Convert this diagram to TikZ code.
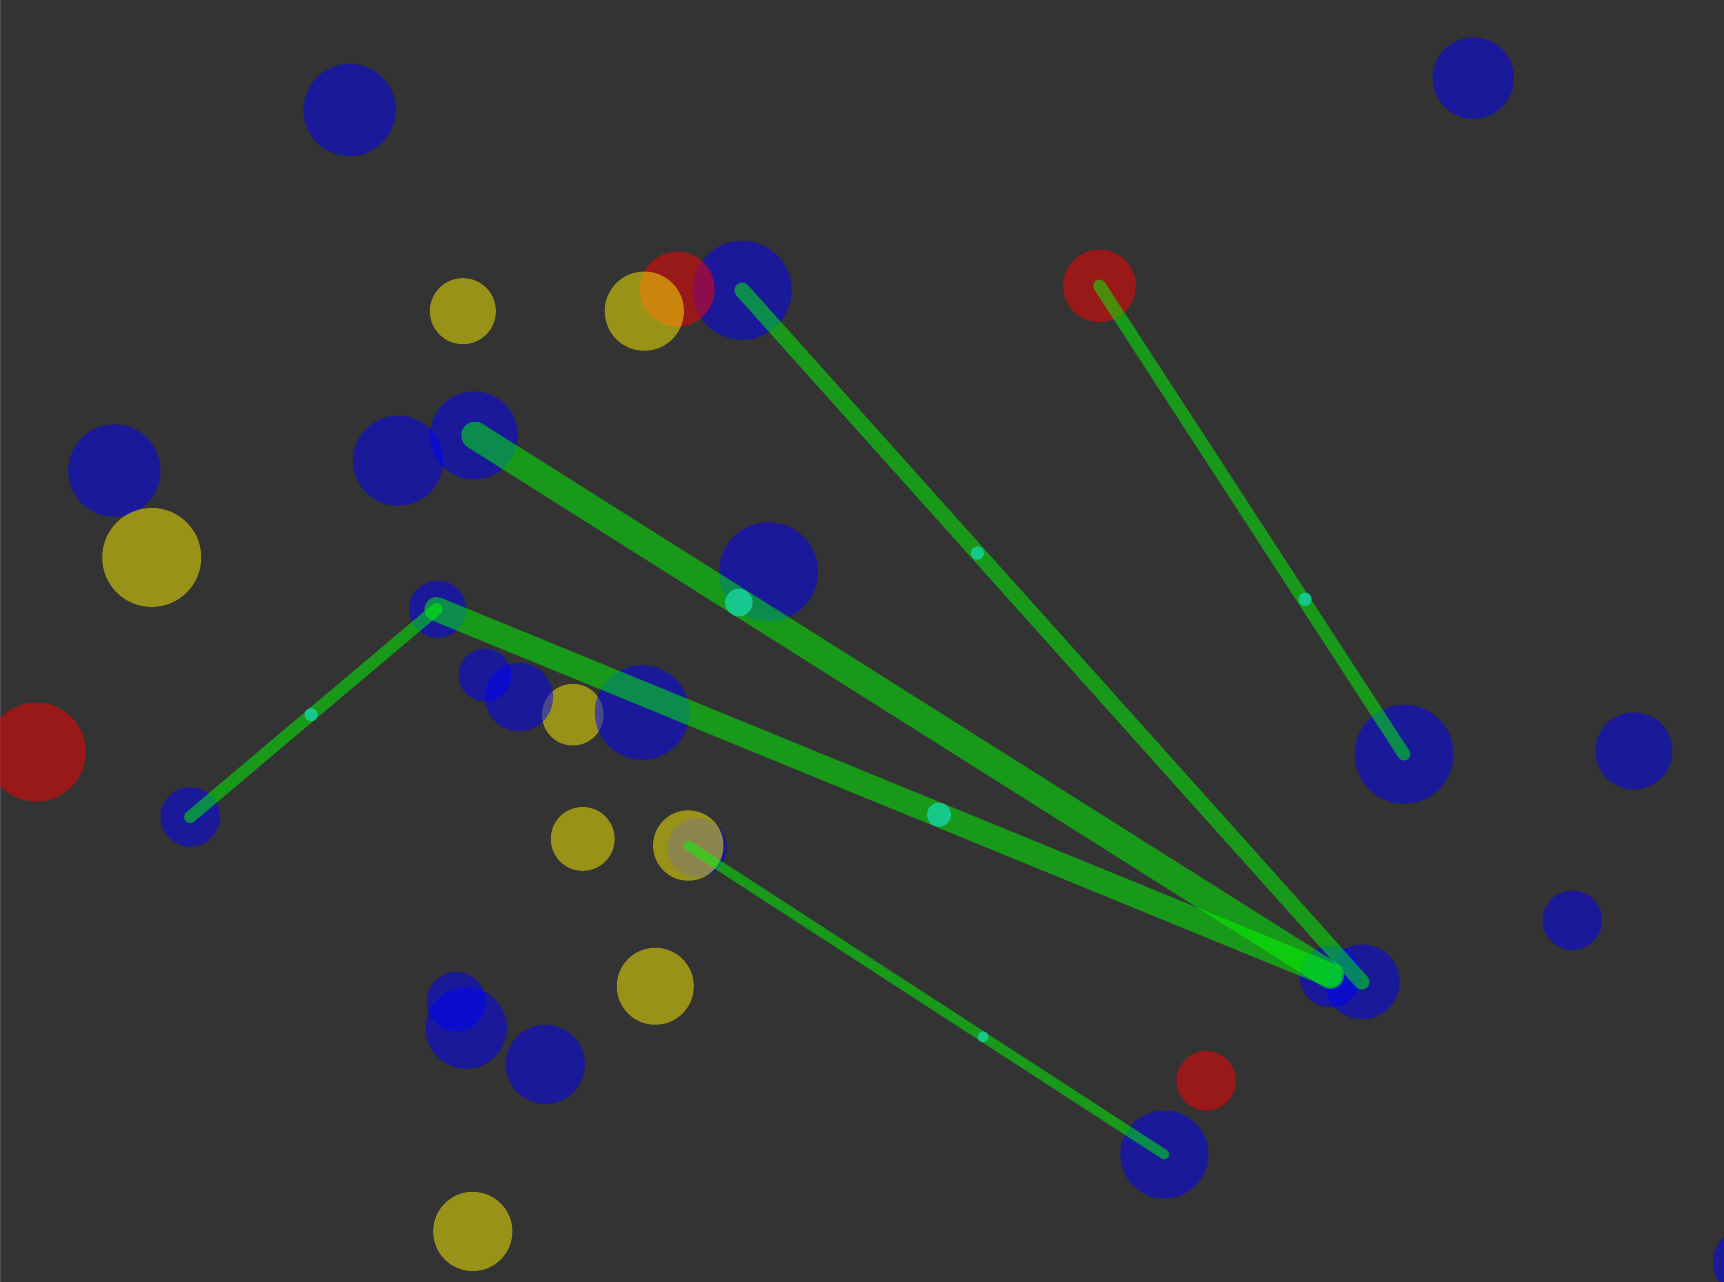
\documentclass[tikz,border=0pt]{standalone}
\usetikzlibrary{calc}
\definecolor{bgc}{HTML}{333333}
\definecolor{edgec}{HTML}{4D4D4D}
\definecolor{mint}{HTML}{16CF98}
\tikzset{
  bluec/.style={fill=blue,fill opacity=0.5},
  redc/.style={fill=red,fill opacity=0.5},
  yelc/.style={fill=yellow,fill opacity=0.5},
  link/.style={draw=green,draw opacity=0.5,line cap=round},
  pulse/.style={fill=mint,fill opacity=0.9},
}
\begin{document}
\begin{tikzpicture}[x=0.01cm,y=-0.01cm]
\useasboundingbox (0,0) rectangle (1568,1166);
\clip (0,0) rectangle (1568,1166);
\fill[bgc] (0,0) rectangle (1568,1166);
\fill[edgec] (0,0) rectangle (1.2,1166);
% yellow drawn under a blue circle
\fill[yelc] (521,650) circle[radius=28];
% blue circles
\foreach \x/\y/\r in {318/100/42, 1340/71/37, 675/264/45, 431/396/40, 362/419/41,
  104/428/42, 699/520/45, 398/554/26, 441/614/24, 472/634/31, 584/648/43,
  173/743/27, 1277/686/45, 1486/683/35, 1430/837/27, 1239/893/34, 1210/888/28,
  415/911/27, 424/935/37, 496/968/36, 1059/1050/40, 1590/1148/32, 634/771/27}
  \fill[bluec] (\x,\y) circle[radius=\r];
% red circles
\foreach \x/\y/\r in {616/263/34, 1000/260/33, 33/684/45, 1097/983/27}
  \fill[redc] (\x,\y) circle[radius=\r];
% yellow circles
\foreach \x/\y/\r in {421/283/30, 586/283/36, 138/507/45, 530/763/29,
  626/769/32, 596/897/35, 430/1120/36}
  \fill[yelc] (\x,\y) circle[radius=\r];
% link end points
\coordinate (a1) at (675,264);  \coordinate (b1) at (1238.5,893);
\coordinate (a2) at (1000,260); \coordinate (b2) at (1277,686);
\coordinate (a3) at (432,396);  \coordinate (b3) at (1210,887);
\coordinate (a4) at (397,554);  \coordinate (b4) at (1210,887);
\coordinate (a5) at (173,743);  \coordinate (b5) at (397,554);
\coordinate (a6) at (626,769);  \coordinate (b6) at (1059,1050);
% links
\draw[link,line width=0.25cm] (a3) -- (b3);
\draw[link,line width=0.22cm] (a4) -- (b4);
\draw[link,line width=0.14cm] (a1) -- (b1);
\draw[link,line width=0.115cm] (a2) -- (b2);
\draw[link,line width=0.11cm] (a5) -- (b5);
\draw[link,line width=0.09cm] (a6) -- (b6);
% pulses on the links
\fill[pulse] (672,548) circle[radius=12.5];
\fill[pulse] (854,741) circle[radius=11];
\fill[pulse] (889,503) circle[radius=6];
\fill[pulse] (1187,545) circle[radius=6];
\fill[pulse] (283,650) circle[radius=6];
\fill[pulse] (894,943) circle[radius=5];
\end{tikzpicture}
\end{document}
